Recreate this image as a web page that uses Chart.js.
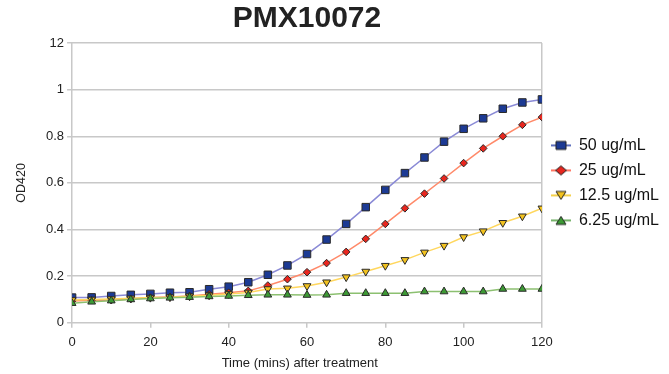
<!DOCTYPE html>
<html>
<head>
    <title>PMX10072</title>
    <style>
        body { margin: 0; background: #fff; }
        #wrap { width: 669px; height: 374px; }
    </style>
</head>
<body>
    <div id="wrap"><canvas id="lineChart" width="669" height="374"></canvas></div>

    <script src="https://cdn.jsdelivr.net/npm/chart.js"></script>
    <script>
        // time points (mins after treatment)
        var times = [0, 5, 10, 15, 20, 25, 30, 35, 40, 45, 50, 55, 60, 65, 70, 75, 80, 85, 90, 95, 100, 105, 110, 115, 120];
        var labels = ['50 ug/mL', '25 ug/mL', '12.5 ug/mL', '6.25 ug/mL'];
        var yTicks = [0, 0.2, 0.4, 0.6, 0.8, 1, 1.2];

        var od50 = [0.108, 0.109, 0.115, 0.12, 0.124, 0.129, 0.131, 0.144, 0.155, 0.174, 0.206, 0.246, 0.295, 0.357, 0.424, 0.496, 0.570, 0.642, 0.709, 0.777, 0.832, 0.877, 0.918, 0.945, 0.958];
        var od25 = [0.094, 0.097, 0.097, 0.102, 0.108, 0.111, 0.115, 0.122, 0.129, 0.137, 0.160, 0.187, 0.217, 0.256, 0.304, 0.360, 0.424, 0.491, 0.554, 0.619, 0.685, 0.748, 0.800, 0.849, 0.882];
        var od125 = [0.098, 0.1, 0.102, 0.105, 0.108, 0.11, 0.114, 0.118, 0.124, 0.13, 0.145, 0.148, 0.158, 0.174, 0.196, 0.220, 0.245, 0.270, 0.302, 0.331, 0.368, 0.393, 0.429, 0.457, 0.491];
        var od625 = [0.084, 0.09, 0.095, 0.1, 0.104, 0.107, 0.11, 0.113, 0.115, 0.118, 0.12, 0.12, 0.119, 0.12, 0.127, 0.127, 0.127, 0.127, 0.134, 0.134, 0.134, 0.134, 0.145, 0.145, 0.145];

        var lineColors = ['#8a8ad6', '#ff8a6a', '#ffd75e', '#8cc070'];
        var keyLine = ['#2a40a8', '#ff4a30', '#f0c010', '#4a9a3a'];
        var markFill = ['#1c3a94', '#e8261e', '#f2c21e', '#3c9a34'];
        var markStyle = ['rect', 'rectRot', 'triangle', 'triangle'];
        var markRot = [0, 0, 180, 0];
        var markSize = [5.3, 3.8, 4.5, 4.5];

        function pts(arr) {
            return times.map(function (t, i) { return { x: t, y: arr[i] }; });
        }
        var series = [od50, od25, od125, od625];

        // small canvases for legend keys: line with marker in the middle
        function legendKey(i) {
            var c = document.createElement('canvas');
            c.width = 20; c.height = 12;
            var g = c.getContext('2d');
            g.strokeStyle = keyLine[i];
            g.lineWidth = 1.5;
            g.beginPath(); g.moveTo(0, 6); g.lineTo(20, 6); g.stroke();
            g.fillStyle = markFill[i];
            g.strokeStyle = '#222';
            g.lineWidth = 1;
            g.beginPath();
            if (i === 0) { g.rect(5, 2, 10, 8); }
            else if (i === 1) { g.moveTo(10, 1.5); g.lineTo(15.5, 6); g.lineTo(10, 10.5); g.lineTo(4.5, 6); g.closePath(); }
            else if (i === 2) { g.moveTo(5, 2); g.lineTo(15, 2); g.lineTo(10, 10); g.closePath(); }
            else { g.moveTo(10, 2); g.lineTo(15, 10); g.lineTo(5, 10); g.closePath(); }
            g.fill(); g.stroke();
            return c;
        }

        var datasets = series.map(function (arr, i) {
            return {
                label: labels[i],
                data: pts(arr),
                borderColor: lineColors[i],
                borderWidth: 1.5,
                backgroundColor: markFill[i],
                pointStyle: markStyle[i],
                pointRotation: markRot[i],
                pointRadius: markSize[i],
                pointBorderColor: '#2a2a2a',
                pointBorderWidth: 1,
                tension: 0,
                fill: false
            };
        }).reverse();

        var ctx = document.getElementById('lineChart').getContext('2d');
        new Chart(ctx, {
            type: 'line',
            data: { datasets: datasets },
            options: {
                responsive: false,
                animation: false,
                layout: { padding: { left: 10, right: 0, top: 0, bottom: 0 } },
                plugins: {
                    title: {
                        display: true,
                        text: 'PMX10072',
                        fullSize: false,
                        color: '#222',
                        font: { family: 'Liberation Sans', size: 30, weight: 'bold' },
                        padding: { top: 1, bottom: 6 }
                    },
                    legend: {
                        position: 'right',
                        align: 'center',
                        fullSize: false,
                        labels: {
                            usePointStyle: true,
                            pointStyleWidth: 20,
                            color: '#111',
                            font: { family: 'Liberation Sans', size: 16 },
                            padding: 9,
                            generateLabels: function (chart) {
                                return labels.map(function (l, i) {
                                    return { text: l, pointStyle: legendKey(i), datasetIndex: 3 - i, fontColor: '#111', lineWidth: 0, strokeStyle: 'transparent', fillStyle: 'transparent' };
                                });
                            }
                        }
                    },
                    tooltip: { enabled: false }
                },
                scales: {
                    x: {
                        type: 'linear',
                        min: 0,
                        max: 120,
                        ticks: { stepSize: 20, color: '#222', font: { family: 'Liberation Sans', size: 13 }, padding: 7 },
                        grid: {
                            color: function (c) { return (c.tick && (c.tick.value === 0 || c.tick.value === 120)) ? '#c8c8c8' : 'rgba(0,0,0,0)'; },
                            tickColor: '#c8c8c8',
                            tickLength: 5,
                            lineWidth: 1.5
                        },
                        border: { display: false },
                        title: { display: true, text: 'Time (mins) after treatment    ', color: '#222', font: { family: 'Liberation Sans', size: 13 }, padding: { top: -2, bottom: 3 } }
                    },
                    y: {
                        min: 0,
                        max: 1.2,
                        afterBuildTicks: function (axis) { axis.ticks = yTicks.map(function (v) { return { value: v }; }); },
                        ticks: {
                            color: '#222',
                            font: { family: 'Liberation Sans', size: 13 },
                            padding: 3,
                            callback: function (v) { return v === 1.2 ? '12' : String(Math.round(v * 10) / 10); }
                        },
                        grid: { color: '#c8c8c8', tickColor: '#c8c8c8', tickLength: 5, lineWidth: 1.5 },
                        border: { display: false },
                        title: { display: true, text: 'OD420', color: '#222', font: { family: 'Liberation Sans', size: 12.5 }, padding: { top: 4.5, bottom: 13.5 } }
                    }
                }
            }
        });
    </script>
</body>
</html>
